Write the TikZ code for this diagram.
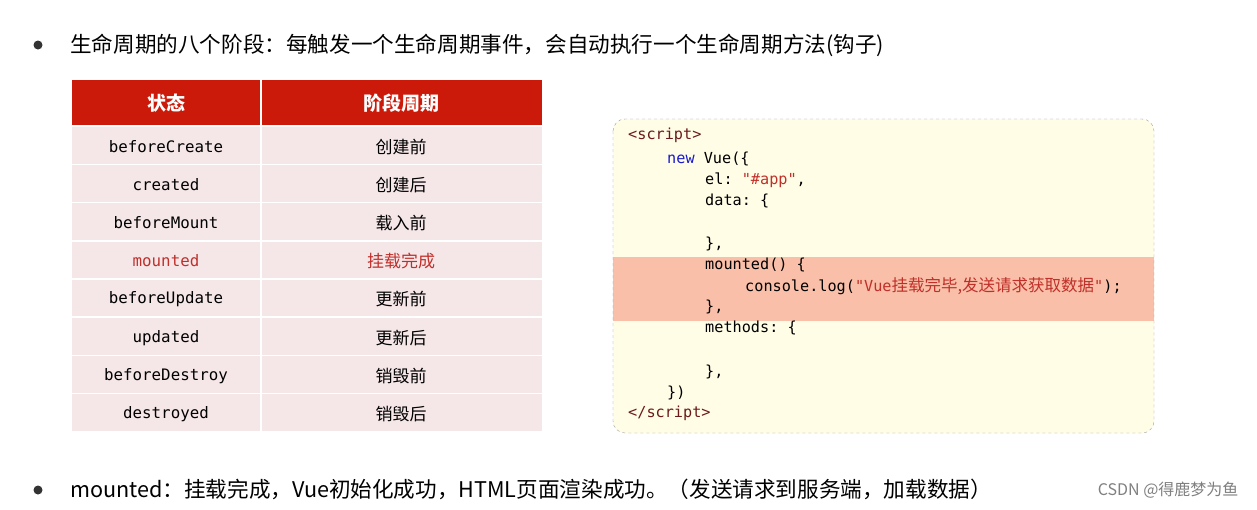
\documentclass[tikz,border=0pt]{standalone}
\usepackage{fontspec}
\setmainfont{Noto Sans CJK SC}
\newfontfamily\cjk{Noto Sans CJK SC}
\setmonofont{DejaVu Sans Mono}
\begin{document}
\begin{tikzpicture}[x=1pt,y=-1pt,
  hdr/.style={font=\cjk\fontsize{19}{19}\selectfont\bfseries,text=white},
  cell/.style={font=\ttfamily\fontsize{15.8}{16}\selectfont},
  ccell/.style={font=\cjk\fontsize{17}{17}\selectfont},
  code/.style={anchor=west,font=\ttfamily\fontsize{15.2}{15}\selectfont,inner sep=0pt},
  bullet/.style={circle,fill=black!80,inner sep=0pt,minimum size=9pt},
  btext/.style={anchor=west,font=\cjk\fontsize{21.6}{22}\selectfont,inner sep=0pt}]
\useasboundingbox (0,0) rectangle (1257,509);
\fill[white] (0,0) rectangle (1257,509);
\definecolor{hred}{HTML}{CC1A0A}
\definecolor{rowpink}{HTML}{F5E6E8}
\definecolor{codebg}{HTML}{FFFDE6}
\definecolor{hl}{HTML}{F9BFA8}
\definecolor{kwred}{HTML}{C0302A}
\definecolor{tagred}{HTML}{6B1A1A}
\definecolor{kwblue}{HTML}{1A1ACC}
% title bullet
\node[bullet] (b1) at (38,45) {};
\node[btext] (t1) at (70,45) {生命周期的八个阶段：每触发一个生命周期事件，会自动执行一个生命周期方法(钩子)};
% table
\fill[hred] (72,80) rectangle (542,125);
\draw[white,line width=1.5pt] (261,80) -- (261,125);
\node[hdr] (h1) at (166,103) {状态};
\node[hdr] (h2) at (401,103) {阶段周期};
\foreach \i in {0,...,7}{
  \pgfmathsetmacro\yt{127+\i*38.2}
  \fill[rowpink] (72,\yt) rectangle (260,\yt+36.5);
  \fill[rowpink] (262,\yt) rectangle (542,\yt+36.5);
}
\node[cell] (r1a) at (166,147) {beforeCreate};
\node[ccell] (r1b) at (401,147) {创建前};
\node[cell] (r2a) at (166,185) {created};
\node[ccell] (r2b) at (401,185) {创建后};
\node[cell] (r3a) at (166,223) {beforeMount};
\node[ccell] (r3b) at (401,223) {载入前};
\node[cell,text=kwred] (r4a) at (166,261) {mounted};
\node[ccell,text=kwred] (r4b) at (401,261) {挂载完成};
\node[cell] (r5a) at (166,299) {beforeUpdate};
\node[ccell] (r5b) at (401,299) {更新前};
\node[cell] (r6a) at (166,338) {updated};
\node[ccell] (r6b) at (401,338) {更新后};
\node[cell] (r7a) at (166,376) {beforeDestroy};
\node[ccell] (r7b) at (401,376) {销毁前};
\node[cell] (r8a) at (166,414) {destroyed};
\node[ccell] (r8b) at (401,414) {销毁后};
% code box
\fill[codebg,rounded corners=12pt] (613,119) rectangle (1154,433);
\fill[hl] (613,257) rectangle (1154,321);
\draw[black!40,dashed,rounded corners=12pt] (613,119) rectangle (1154,433);
\node[code,text=tagred] (c1) at (628,135) {<script>};
\node[code] (c2) at (667,159) {\textcolor{kwblue}{new} Vue(\{};
\node[code] (c3) at (705,180) {el: \textcolor{kwred}{"\#app"},};
\node[code] (c4) at (705,201) {data: \{};
\node[code] (c5) at (705,244) {\},};
\node[code] (c6) at (705,265) {mounted() \{};
\node[code] (c7) at (745,286) {console.log(\textcolor{kwred}{"Vue{\cjk\fontsize{16.5}{16}\selectfont 挂载完毕,发送请求获取数据}"});};
\node[code] (c8) at (705,307) {\},};
\node[code] (c9) at (705,328) {methods: \{};
\node[code] (c10) at (705,372) {\},};
\node[code] (c11) at (667,393) {\})};
\node[code,text=tagred] (c12) at (628,413) {</script>};
% bottom bullet
\node[bullet] (b2) at (38,490) {};
\node[btext] (t2) at (70,489) {mounted：挂载完成，Vue初始化成功，HTML页面渲染成功。（发送请求到服务端，加载数据）};
\node[anchor=east,font=\cjk\fontsize{16}{16}\selectfont,text=black!50] (wm) at (1242,490) {CSDN @得鹿梦为鱼};
\end{tikzpicture}
\end{document}
